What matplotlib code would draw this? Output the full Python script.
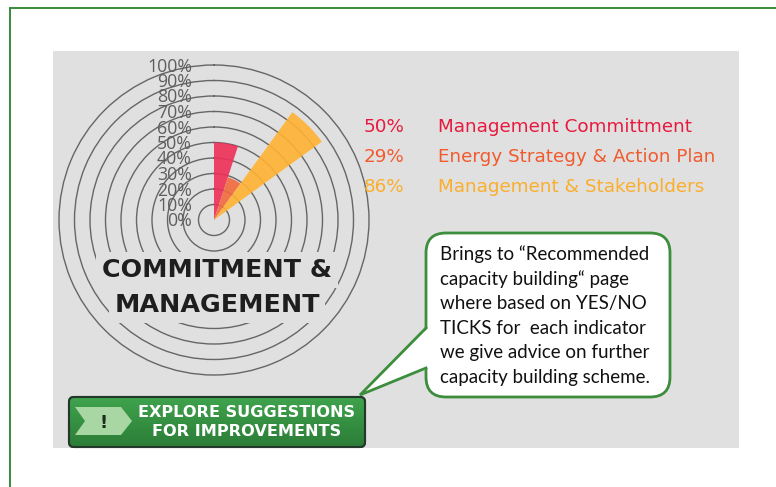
import matplotlib
matplotlib.use("agg")
from matplotlib import pyplot as plt
from matplotlib import transforms
from matplotlib.patches import FancyBboxPatch, Polygon, Rectangle
import numpy as np

W, H = 776, 487

# chart data
indicators = ["Management Committment", "Energy Strategy & Action Plan", "Management & Stakeholders"]
scores = [50, 29, 86]
bar_colors = ["#ee2f57", "#f26a3c", "#ffb233"]
text_colors = ["#e8193f", "#f15a2c", "#fbae2c"]
ring_levels = [0, 10, 20, 30, 40, 50, 60, 70, 80, 90, 100]

title_lines = ["COMMITMENT &", "MANAGEMENT"]
button_lines = ["EXPLORE SUGGESTIONS", "FOR IMPROVEMENTS"]
callout_lines = [
    "Brings to \u201cRecommended",
    "capacity building\u201c page",
    "where based on YES/NO",
    "TICKS for  each indicator",
    "we give advice on further",
    "capacity building scheme.",
]

GRAY = "#e0e0e0"

fig = plt.figure(figsize=(W / 100, H / 100), dpi=100)

# background layer: page border and grey panel
bg = fig.add_axes([0, 0, 1, 1], zorder=0)
bg.set_xlim(0, W)
bg.set_ylim(H, 0)
bg.axis("off")
bg.add_patch(Rectangle((53, 51), 686, 397, facecolor=GRAY, edgecolor="none"))
bg.plot([10, W], [8, 8], color="#3a8a3a", lw=1.4)
bg.plot([10, 10], [8, H], color="#3a8a3a", lw=1.4)

# polar chart, centre at (214, 220) px, 100% ring = 155 px
cx, cy, R = 214, 220, 155
rmax = 1.01
Rpx = R * rmax
pax = fig.add_axes([(cx - Rpx) / W, (H - cy - Rpx) / H, 2 * Rpx / W, 2 * Rpx / H],
                   projection="polar", zorder=1)
pax.set_facecolor("none")
pax.set_theta_zero_location("N")
pax.set_theta_direction(-1)
pax.set_ylim(0, rmax)
pax.set_xticks([])
pax.set_yticks([v / 100 for v in ring_levels[1:]])
pax.set_yticklabels([])
pax.yaxis.grid(True, color="#666666", lw=1.0)
pax.spines["polar"].set_visible(False)

width = np.deg2rad(18)
theta = [width / 2 + i * width for i in range(len(scores))]
pax.bar(theta, [s / 100 for s in scores], width=width, color=bar_colors,
        alpha=0.9, edgecolor="none", zorder=2)

# ring labels sit just left of the vertical axis, rings show through them
lab_tr = transforms.offset_copy(pax.transData, fig=fig, x=-22, y=-1.5, units="dots")
for v in ring_levels:
    pax.text(0, v / 100, f"{v}%", transform=lab_tr, ha="right", va="center",
             fontsize=12.8, family="Open Sans", color="#5e5e5e", zorder=4)

# foreground layer: legend, title, button, callout
fg = fig.add_axes([0, 0, 1, 1], zorder=2)
fg.set_xlim(0, W)
fg.set_ylim(H, 0)
fg.axis("off")
fg.patch.set_alpha(0)

for i, (name, s) in enumerate(zip(indicators, scores)):
    y = 132 + 30 * i
    fg.text(364, y, f"{s}%", color=text_colors[i], fontsize=13.2,
            family="DejaVu Sans", va="baseline", ha="left")
    fg.text(438, y, name, color=text_colors[i], fontsize=13.2,
            family="DejaVu Sans", va="baseline", ha="left")

for i, line in enumerate(title_lines):
    fg.text(217, 277 + 35 * i, line, fontsize=18.3, fontweight="heavy",
            family="DejaVu Sans", color="#1e1e1e", ha="center", va="baseline",
            bbox=dict(boxstyle="square,pad=0.22", fc=GRAY, ec="none"))

# green button with vertical gradient
btn = FancyBboxPatch((69, 397), 296, 50, boxstyle="round,pad=0,rounding_size=5",
                     facecolor="#35963f", edgecolor="#22382a", lw=1.5)
fg.add_patch(btn)
grad = np.linspace(0, 1, 64).reshape(-1, 1)
img = fg.imshow(grad, extent=[69, 365, 447, 397], cmap=matplotlib.colors.LinearSegmentedColormap.from_list(
    "g", ["#3fa34d", "#2c7d37"]), aspect="auto", zorder=2.1)
img.set_clip_path(btn)
fg.add_patch(FancyBboxPatch((69, 397), 296, 50, boxstyle="round,pad=0,rounding_size=5",
                            facecolor="none", edgecolor="#22382a", lw=1.5, zorder=2.2))
fg.add_patch(Polygon([(75, 407), (121, 407), (132, 421), (121, 435), (75, 435), (85, 421)],
                     closed=True, facecolor="#a9d7a3", edgecolor="none", zorder=2.3))
fg.text(104, 428, "!", fontsize=13, fontweight="bold", color="#1a2e1a",
        ha="center", va="baseline", zorder=2.4)
for i, line in enumerate(button_lines):
    fg.text(247, 417 + 18.5 * i, line, fontsize=11.6, fontweight="bold",
            family="DejaVu Sans", color="white", ha="center", va="baseline", zorder=2.4)

# callout bubble
fg.add_patch(FancyBboxPatch((426, 233), 244, 164, boxstyle="round,pad=0,rounding_size=20",
                            facecolor="white", edgecolor="#3c8d3c", lw=2, zorder=3))
fg.add_patch(Polygon([(429, 327), (360, 395), (429, 368)], closed=True,
                     facecolor="white", edgecolor="none", zorder=3.1))
fg.plot([426, 360, 426], [328, 395, 368], color="#3c8d3c", lw=2, zorder=3.2,
        solid_joinstyle="miter")
for i, line in enumerate(callout_lines):
    fg.text(440, 260 + 24.6 * i, line, fontsize=13.5, family="Lato",
            color="#111111", ha="left", va="baseline", zorder=3.3)

fig.savefig("out.png", dpi=100)
